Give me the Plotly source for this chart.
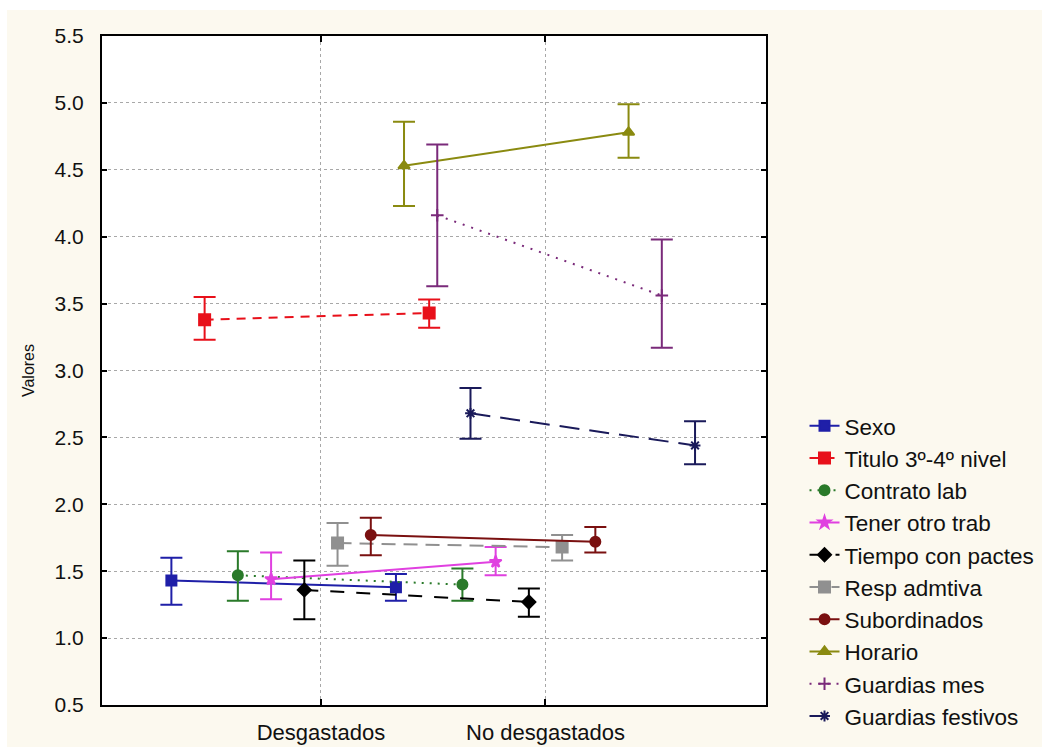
import plotly.graph_objects as go

categories = ["Desgastados", "No desgastados"]
series_names = ["Sexo", "Titulo 3º-4º nivel", "Contrato lab", "Tener otro trab",
                "Tiempo con pactes", "Resp admtiva", "Subordinados", "Horario",
                "Guardias mes", "Guardias festivos"]

means_desg = [1.43, 3.38, 1.47, 1.44, 1.36, 1.71, 1.77, 4.53, 4.16, 2.68]
upper_desg = [1.60, 3.55, 1.65, 1.64, 1.58, 1.86, 1.90, 4.86, 4.69, 2.87]
lower_desg = [1.25, 3.23, 1.28, 1.29, 1.14, 1.54, 1.62, 4.23, 3.63, 2.49]
means_no = [1.38, 3.43, 1.40, 1.57, 1.27, 1.68, 1.72, 4.78, 3.56, 2.44]
upper_no = [1.48, 3.53, 1.52, 1.68, 1.37, 1.77, 1.83, 4.99, 3.98, 2.62]
lower_no = [1.28, 3.32, 1.28, 1.47, 1.16, 1.58, 1.64, 4.59, 3.17, 2.30]

y_ticks = [0.5, 1.0, 1.5, 2.0, 2.5, 3.0, 3.5, 4.0, 4.5, 5.0, 5.5]

colors = ["#1f1fa8", "#e8101a", "#2a7a2a", "#e040e0", "#000000",
          "#909090", "#7a1010", "#8a8a10", "#7a2a7a", "#1a1a5a"]
dashes = ["solid", "9px,7px", "2px,6px", "solid", "14px,12px",
          "14px,8px", "solid", "solid", "2px,7px", "20px,10px"]
symbols = ["square", "square", "circle", "star", "diamond",
           "square", "circle", "triangle-up", "cross-thin", "asterisk"]
sizes = [10, 11, 10, 9, 10, 11, 10, 10, 9, 9]

FONT = "Liberation Sans"
fig = go.Figure()
step = 0.148
n = len(series_names)
for i, name in enumerate(series_names):
    off = (i - (n - 1) / 2) * step
    xs = [1 + off, 2 + off]
    ys = [means_desg[i], means_no[i]]
    up = [upper_desg[i] - means_desg[i], upper_no[i] - means_no[i]]
    dn = [means_desg[i] - lower_desg[i], means_no[i] - lower_no[i]]
    fig.add_trace(go.Scatter(
        x=xs, y=ys, name=name, mode="lines+markers",
        line=dict(color=colors[i], width=2, dash=dashes[i]),
        marker=dict(symbol=symbols[i], size=sizes[i],
                    color=colors[i], line=dict(color=colors[i], width=2)),
        error_y=dict(type="data", symmetric=False, array=up, arrayminus=dn,
                     color=colors[i], thickness=2, width=11),
    ))

# white outer strips of the original image
fig.add_shape(type="rect", xref="paper", yref="paper", x0=-0.2, x1=1.6, y0=1.039, y1=1.08,
              fillcolor="white", line=dict(width=0), layer="below")
fig.add_shape(type="rect", xref="paper", yref="paper", x0=-0.2, x1=-0.1431, y0=-0.1, y1=1.08,
              fillcolor="white", line=dict(width=0), layer="below")

fig.update_layout(
    width=1042, height=747,
    margin=dict(l=102, r=276, t=36, b=42, autoexpand=False),
    paper_bgcolor="#fcf9ef", plot_bgcolor="white",
    font=dict(family=FONT, size=21, color="#111"),
    showlegend=True,
    legend=dict(x=1.058, xanchor="left", y=0.449, yanchor="top",
                font=dict(family=FONT, size=22.5, color="#111"),
                bgcolor="rgba(0,0,0,0)", itemwidth=30, tracegroupgap=0),
)
fig.update_xaxes(
    range=[0.025, 2.982], tickmode="array", tickvals=[1, 2], ticktext=categories,
    showgrid=True, gridcolor="#a8a8a8", griddash="dot", gridwidth=1,
    showline=True, linecolor="black", linewidth=2, mirror="ticks",
    ticks="inside", ticklen=6, tickwidth=2, tickcolor="black",
    ticklabelstandoff=7, zeroline=False,
    tickfont=dict(family=FONT, size=22, color="#111"),
)
fig.update_yaxes(
    range=[0.5, 5.5], tickmode="array", tickvals=y_ticks,
    ticktext=[f"{v:.1f}" for v in y_ticks],
    showgrid=True, gridcolor="#a8a8a8", griddash="dot", gridwidth=1,
    showline=True, linecolor="black", linewidth=2, mirror="ticks",
    ticks="inside", ticklen=5, tickwidth=2, tickcolor="black",
    ticklabelstandoff=12, zeroline=False,
    tickfont=dict(family=FONT, size=21, color="#111"),
    title=dict(text="Valores", font=dict(family=FONT, size=16, color="#111"), standoff=16),
)

fig.write_html("out.html")
